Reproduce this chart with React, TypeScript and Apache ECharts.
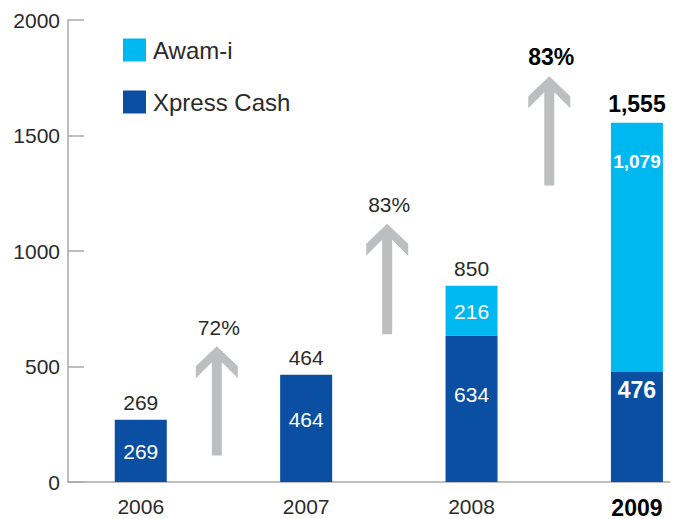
import React, { useEffect, useRef } from "react";
import * as echarts from "echarts";

const years = [2006, 2007, 2008, 2009];
const xpressCash = [269, 464, 634, 476];
const awamI = [0, 0, 216, 1079];

// growth arrows: x position (year scale), bottom value, top value, label
const arrowX = [2006.46, 2007.49, 2008.47];
const arrowBottom = [115, 640, 1284];
const arrowTop = [588, 1118, 1757];
const arrowLabels = ["72%", "83%", "83%"];

// layout (not data)
const xpressLabelDist = [21, 34, 48, 6];
const awamLabelDist = [0, 0, 15, 29];
const HIGHLIGHT = 3; // 2009 is emphasised

const DARK = "#0a4fa1";
const LIGHT = "#00b8f0";
const GREY = "#bdbec0";
const TEXT = "#2a2a2a";
const FONT = "Liberation Sans, Arial, Helvetica, sans-serif";
const FS = 21;
const FSB = 23;

const fmt = (v: number) => v.toLocaleString("en-US");

export default function App() {
  const ref = useRef<HTMLDivElement>(null);
  useEffect(() => {
    if (!ref.current) return;
    const chart = echarts.init(ref.current, undefined, { renderer: "svg" });
    const totals = years.map((_, i) => xpressCash[i] + awamI[i]);

    // value first, year second: stacking happens on dimension 0 (the value)
    const xpressData = xpressCash.map((v, i) => ({
      value: [v, years[i]],
      label: {
        show: true,
        position: "insideTop",
        distance: xpressLabelDist[i],
        formatter: fmt(v),
        color: "#ffffff",
        fontFamily: FONT,
        fontSize: i === HIGHLIGHT ? FSB : FS,
        fontWeight: i === HIGHLIGHT ? "bold" : "normal",
      },
    }));
    const awamData = awamI.map((v, i) => ({
      value: [v, years[i]],
      label: {
        show: v > 0,
        position: "insideTop",
        distance: awamLabelDist[i],
        formatter: fmt(v),
        color: "#ffffff",
        fontFamily: FONT,
        fontSize: i === HIGHLIGHT ? 19 : FS,
        fontWeight: i === HIGHLIGHT ? "bold" : "normal",
      },
    }));
    const totalData = totals.map((t, i) => ({
      value: [t, years[i]],
      label: {
        show: true,
        position: "top",
        distance: 7,
        opacity: 1,
        formatter: fmt(t),
        color: i === HIGHLIGHT ? "#000" : TEXT,
        fontFamily: FONT,
        fontSize: i === HIGHLIGHT ? FSB : FS,
        fontWeight: i === HIGHLIGHT ? "bold" : "normal",
      },
    }));
    const arrowData = arrowX.map((x, i) => [x, arrowBottom[i], arrowTop[i], i]);

    chart.setOption({
      animation: false,
      grid: { left: 68, right: 8, top: 20, bottom: 34, containLabel: false },
      legend: {
        data: ["Awam-i", "Xpress Cash"],
        orient: "vertical",
        left: 123,
        top: 38,
        padding: 0,
        itemWidth: 23,
        itemHeight: 23,
        itemGap: 28,
        icon: "rect",
        textStyle: { fontSize: 24, color: TEXT, fontFamily: FONT, padding: [0, 0, 0, 2] },
      },
      xAxis: {
        type: "value",
        min: 2005.56,
        max: 2009.2,
        splitLine: { show: false },
        axisLine: { show: true, lineStyle: { color: "#a9a9a9", width: 1.5 } },
        axisTick: { show: false },
        axisLabel: {
          customValues: years,
          margin: 14,
          fontSize: FS,
          fontFamily: FONT,
          color: TEXT,
          formatter: (v: number) => (v === years[HIGHLIGHT] ? `{b|${v}}` : `${v}`),
          rich: { b: { fontWeight: "bold", fontSize: FSB, color: "#000", fontFamily: FONT } },
        },
      },
      yAxis: {
        type: "value",
        min: 0,
        max: 2000,
        interval: 500,
        splitLine: { show: false },
        axisLine: { show: true, lineStyle: { color: "#a9a9a9", width: 1.5 } },
        axisTick: { show: true, inside: true, length: 16, lineStyle: { color: "#a9a9a9", width: 1.5 } },
        axisLabel: {
          margin: 8,
          fontSize: FS,
          fontFamily: FONT,
          color: TEXT,
          formatter: (v: number) => String(v),
        },
      },
      series: [
        {
          name: "Xpress Cash",
          type: "bar",
          stack: "t",
          barWidth: 52,
          encode: { x: 1, y: 0 },
          itemStyle: { color: DARK },
          data: xpressData,
        },
        {
          name: "Awam-i",
          type: "bar",
          stack: "t",
          barWidth: 52,
          encode: { x: 1, y: 0 },
          itemStyle: { color: LIGHT },
          data: awamData,
        },
        {
          name: "total",
          type: "scatter",
          symbolSize: 0,
          silent: true,
          encode: { x: 1, y: 0 },
          itemStyle: { opacity: 1 },
          data: totalData,
        },
        {
          name: "arrows",
          type: "custom",
          silent: true,
          data: arrowData,
          renderItem: (params: any, api: any) => {
            const x = api.value(0);
            const pb = api.coord([x, api.value(1)]);
            const pt = api.coord([x, api.value(2)]);
            const idx = api.value(3);
            const cx = pb[0];
            const t = pt[1];
            const b = pb[1];
            const hw = 21;
            const sw = 5;
            const strong = idx === arrowLabels.length - 1;
            return {
              type: "group",
              children: [
                {
                  type: "polygon",
                  shape: {
                    points: [
                      [cx, t],
                      [cx + hw, t + 20],
                      [cx + hw, t + 32],
                      [cx + sw, t + 16],
                      [cx + sw, b],
                      [cx - sw, b],
                      [cx - sw, t + 16],
                      [cx - hw, t + 32],
                      [cx - hw, t + 20],
                    ],
                  },
                  style: { fill: GREY },
                },
                {
                  type: "text",
                  x: cx + 2,
                  y: t - 19,
                  style: {
                    text: arrowLabels[idx],
                    fill: strong ? "#000" : TEXT,
                    fontSize: strong ? FSB : FS,
                    fontWeight: strong ? "bold" : "normal",
                    fontFamily: FONT,
                    align: "center",
                    verticalAlign: "middle",
                  },
                },
              ],
            };
          },
        },
      ],
    });
    return () => chart.dispose();
  }, []);
  return (
    <div
      ref={ref}
      style={{ position: "fixed", left: 0, top: 0, width: 678, height: 519, background: "#fff" }}
    />
  );
}
